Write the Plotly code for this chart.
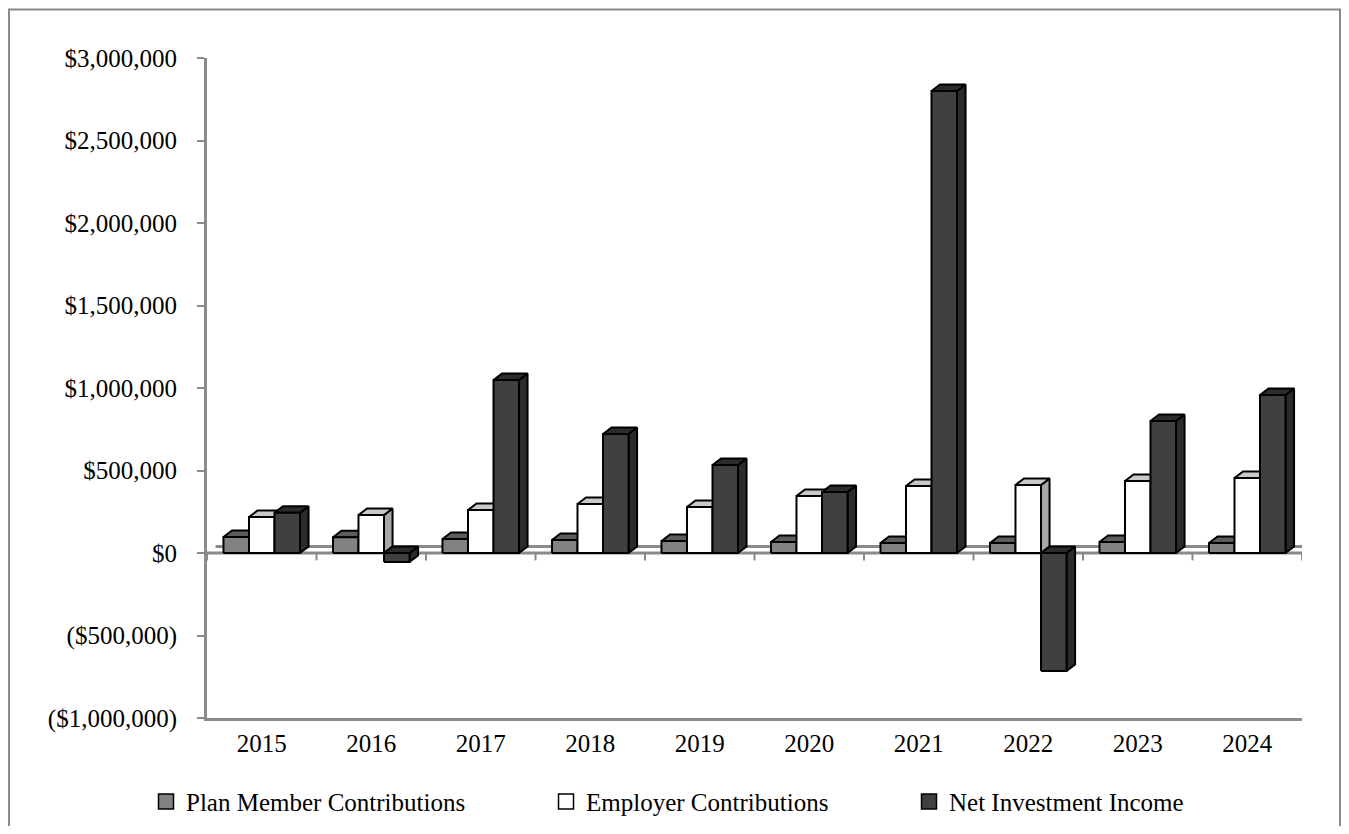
import plotly.graph_objects as go

# ---------------- data ----------------
years = ["2015", "2016", "2017", "2018", "2019", "2020", "2021", "2022", "2023", "2024"]
plan_member = [97000, 95000, 85000, 79000, 73000, 67000, 60000, 60000, 67000, 60000]
employer = [218000, 230000, 260000, 297000, 279000, 345000, 406000, 412000, 436000, 455000]
net_investment = [244000, -55000, 1048000, 721000, 533000, 370000, 2800000, -715000, 800000, 958000]
series_names = ["Plan Member Contributions", "Employer Contributions", "Net Investment Income"]
y_ticks = [3000000, 2500000, 2000000, 1500000, 1000000, 500000, 0, -500000, -1000000]

# ---------------- style ----------------
front_colors = ["#828282", "#ffffff", "#404040"]
top_colors = ["#5c5c5c", "#c9c9c9", "#2b2b2b"]
side_colors = ["#5c5c5c", "#a8a8a8", "#2b2b2b"]
axis_gray = "#8a8a8a"
FONT = "Liberation Serif"
bar_w = 0.233          # width of one bar in category units
dx = 0.078             # depth offset (x, category units)
dy = 39500             # depth offset (y, value units)


def fmt(v):
    s = "${:,.0f}".format(abs(v))
    return "(" + s + ")" if v < 0 else s


fig = go.Figure()

n = len(years)
# floor: back edge and front edge of the zero plane
fig.add_trace(go.Scatter(x=[-0.5 + dx, n - 0.5 + dx], y=[dy, dy], mode="lines",
                         line=dict(color=axis_gray, width=3), showlegend=False, hoverinfo="skip"))
fig.add_trace(go.Scatter(x=[-0.5, n - 0.5], y=[0, 0], mode="lines",
                         line=dict(color=axis_gray, width=3), showlegend=False, hoverinfo="skip"))
# category tick marks on the zero line
tx, ty = [], []
for i in range(n + 1):
    tx += [i - 0.5, i - 0.5, None]
    ty += [0, -45000, None]
fig.add_trace(go.Scatter(x=tx, y=ty, mode="lines", line=dict(color=axis_gray, width=2),
                         showlegend=False, hoverinfo="skip"))

all_series = [plan_member, employer, net_investment]
for k, vals in enumerate(all_series):
    fx, fy, topx, topy, sx, sy = [], [], [], [], [], []
    for i, v in enumerate(vals):
        x0 = i + (k - 1.5) * bar_w
        x1 = x0 + bar_w
        lo, hi = min(0, v), max(0, v)
        fx += [x0, x1, x1, x0, x0, None]
        fy += [lo, lo, hi, hi, lo, None]
        topx += [x0, x1, x1 + dx, x0 + dx, x0, None]
        topy += [hi, hi, hi + dy, hi + dy, hi, None]
        sx += [x1, x1, x1 + dx, x1 + dx, x1, None]
        sy += [lo, hi, hi + dy, lo + dy, lo, None]
    for xs, ys, col in ((sx, sy, side_colors[k]), (topx, topy, top_colors[k]), (fx, fy, front_colors[k])):
        fig.add_trace(go.Scatter(x=xs, y=ys, mode="lines", fill="toself", fillcolor=col,
                                 line=dict(color="black", width=2), showlegend=False,
                                 hoverinfo="skip", name=series_names[k]))

# legend entries (one legend per entry to reproduce spacing)
legend_x = [-0.0557, 0.3096, 0.6411]
for k, name in enumerate(series_names):
    fig.add_trace(go.Scatter(x=[None], y=[None], mode="markers", name=name,
                             marker=dict(symbol="square", size=15, color=front_colors[k],
                                         line=dict(color="black", width=1.5)),
                             legend="legend" if k == 0 else "legend%d" % (k + 1)))

leg_common = dict(orientation="h", yanchor="middle", y=-0.127, xanchor="left",
                  font=dict(family=FONT, size=25, color="black"), bgcolor="rgba(0,0,0,0)",
                  itemwidth=30)
fig.update_layout(
    legend=dict(x=legend_x[0], **leg_common),
    legend2=dict(x=legend_x[1], **leg_common),
    legend3=dict(x=legend_x[2], **leg_common),
)

fig.update_xaxes(range=[-0.5, n - 0.5], tickvals=list(range(n)), ticktext=years,
                 ticks="", showgrid=False, zeroline=False, showline=True,
                 linecolor=axis_gray, linewidth=3, ticklabelstandoff=1,
                 tickfont=dict(family=FONT, size=25, color="black"), fixedrange=True)
fig.update_yaxes(range=[-1000000, 3000000], tickvals=y_ticks, ticktext=[fmt(v) for v in y_ticks],
                 ticks="outside", ticklen=7, tickwidth=2, tickcolor=axis_gray,
                 showgrid=False, zeroline=False, showline=True, linecolor=axis_gray, linewidth=3,
                 ticklabelstandoff=15,
                 tickfont=dict(family=FONT, size=25, color="black"), fixedrange=True)

fig.add_shape(type="rect", xref="paper", yref="paper",
              x0=-0.1808, x1=1.0347, y0=-0.2, y1=1.0735,
              line=dict(color="#8a8a8a", width=2), fillcolor="rgba(0,0,0,0)", layer="below")

# the page body has an 8px margin, so the figure starts at (8, 8)
fig.update_layout(
    width=1333, height=818,
    margin=dict(l=199, r=39, t=50, b=108, autoexpand=False),
    paper_bgcolor="white", plot_bgcolor="white",
    font=dict(family=FONT, size=25, color="black"),
)

fig.write_html("out.html")
